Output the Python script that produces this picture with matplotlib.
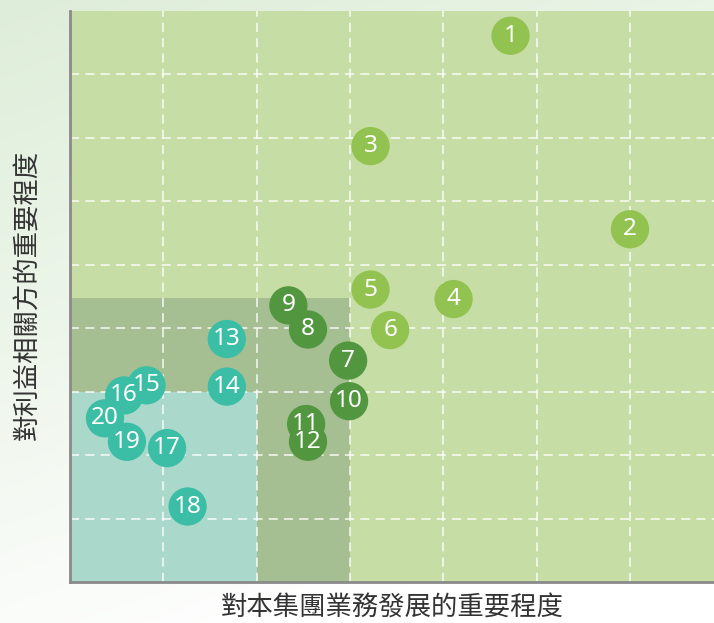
import matplotlib
matplotlib.use("Agg")
import matplotlib.pyplot as plt
import numpy as np
from matplotlib.patches import Rectangle

labels = [str(i) for i in range(1, 21)]
x_vals = [4.72, 6.00, 3.22, 4.11, 3.22, 3.43, 2.98, 2.55, 2.34, 2.99,
          2.53, 2.55, 1.68, 1.68, 0.82, 0.58, 1.04, 1.26, 0.61, 0.375]
y_vals = [8.61, 5.56, 6.87, 4.46, 4.61, 3.97, 3.49, 3.98, 4.36, 2.85,
          2.49, 2.21, 3.83, 3.08, 3.10, 2.94, 2.11, 1.19, 2.21, 2.58]
groups = ["high"] * 6 + ["mid"] * 6 + ["low"] * 8
group_colors = {"high": "#92c350", "mid": "#52973f", "low": "#3bbea5"}

xlabel = "對本集團業務發展的重要程度"
ylabel = "對利益相關方的重要程度"

W, H, DPI = 714, 623, 100
fig = plt.figure(figsize=(W / DPI, H / DPI), dpi=DPI)

# background gradient
bg = fig.add_axes([0, 0, 1, 1], zorder=-10)
yy, xx = np.mgrid[0:1:200j, 0:1:200j]
t = np.clip(0.85 * yy + 0.35 * xx, 0, 1)  # 0 at top-left
top = np.array([0.87, 0.93, 0.85])
bot = np.array([1.0, 1.0, 1.0])
img = top[None, None, :] * (1 - t[..., None]) + bot[None, None, :] * t[..., None]
bg.imshow(img, aspect="auto", extent=[0, 1, 0, 1], origin="upper")
bg.axis("off")

ax_left = 70 / W
ax_bottom = (H - 582) / H
ax_w = (W - 70) / W
ax_h = (582 - 11) / H
ax = fig.add_axes([ax_left, ax_bottom, ax_w, ax_h])
ax.set_xlim(0, (W - 70) / 93.33)
ax.set_ylim(0, 9)
ax.set_facecolor("#c6dea5")

ax.add_patch(Rectangle((0, 0), 3, 4.47, facecolor="#a5bf93", edgecolor="none", zorder=0.5))
ax.add_patch(Rectangle((0, 0), 2, 3.0, facecolor="#aad9cb", edgecolor="none", zorder=0.6))

for gx in range(1, 7):
    ax.axvline(gx, color="white", lw=1.1, ls=(0, (6, 4)), zorder=1, alpha=0.9)
for gy in range(1, 9):
    ax.axhline(gy, color="white", lw=1.1, ls=(0, (6, 4)), zorder=1, alpha=0.9)

for i, (lab, x, y, g) in enumerate(zip(labels, x_vals, y_vals, groups)):
    ax.scatter([x], [y], s=760, color=group_colors[g], edgecolors="none", zorder=3 + i * 0.01)
for i, (lab, x, y) in enumerate(zip(labels, x_vals, y_vals)):
    ax.text(x, y, lab, color="white", fontsize=17.5, family=["Noto Sans", "DejaVu Sans"],
            ha="center", va="center", zorder=4)

for s in ["top", "right"]:
    ax.spines[s].set_visible(False)
for s in ["left", "bottom"]:
    ax.spines[s].set_color("#8a8a8a")
    ax.spines[s].set_linewidth(2)
ax.set_xticks([])
ax.set_yticks([])

fig.text(392 / W, 1 - 607 / H, xlabel, ha="center", va="center", fontsize=19,
         color="#333333", family=["Noto Sans CJK TC", "DejaVu Sans"])
fig.text(28 / W, 1 - 295 / H, ylabel, ha="center", va="center", fontsize=19, rotation=90,
         color="#333333", family=["Noto Sans CJK TC", "DejaVu Sans"])

fig.savefig("out.png", dpi=DPI)
